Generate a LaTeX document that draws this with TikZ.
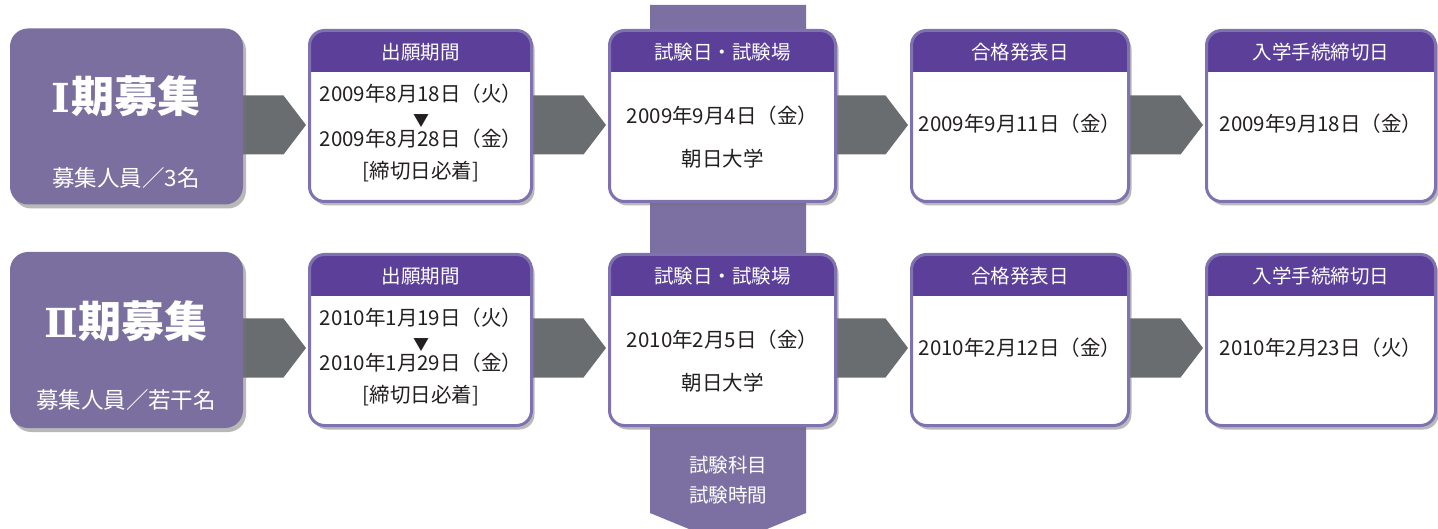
\documentclass[tikz,border=0pt]{standalone}
\usepackage{fontspec}
\setmainfont{Noto Sans CJK JP}
\newfontfamily\romfont{DejaVu Serif}
\usetikzlibrary{calc,shadows}
\pgfdeclarelayer{bg}
\pgfsetlayers{bg,main}
\definecolor{hdr}{HTML}{5B3F98}
\definecolor{cardline}{HTML}{8072B0}
\definecolor{lboxc}{HTML}{7A6F9E}
\definecolor{bandc}{HTML}{7B70A1}
\definecolor{arrowc}{HTML}{6A6D6F}
\definecolor{ink}{HTML}{231F20}

\newcommand\mkcard[4]{%
  \node[card, minimum width=#4pt] (#1) at (#2,#3) {};
  \begin{scope}
    \clip[rounded corners=15pt] (#1.south west) rectangle (#1.north east);
    \fill[hdr] (#1.north west) rectangle ($(#1.north east)+(0,42)$);
  \end{scope}
  \draw[cardline, line width=3pt, rounded corners=15pt] (#1.south west) rectangle (#1.north east);
}
\newcommand\flowarr[3]{%
  \path (#1.east |- #3) coordinate (fa-s) (#2.west |- #3) coordinate (fa-t);
  \begin{pgfonlayer}{bg}
    \fill[arrowc] ($(fa-s)+(-6,-29.5)$) -- ($(fa-t)+(-26,-29.5)$) -- ($(fa-t)+(-3.5,0)$)
      -- ($(fa-t)+(-26,29.5)$) -- ($(fa-s)+(-6,29.5)$) -- cycle;
  \end{pgfonlayer}}
\newcommand\romnum[1]{{\romfont\bfseries\fontsize{40}{44}\selectfont #1}\kern1pt}

\begin{document}
\begin{tikzpicture}[x=1pt,y=-1pt,
  card/.style={fill=white, rounded corners=15pt, inner sep=0pt, outer sep=0pt,
    minimum height=171pt,
    drop shadow={shadow xshift=3pt, shadow yshift=-4pt, fill=black!55, opacity=.5}},
  lbox/.style={fill=lboxc, rounded corners=18pt, inner sep=0pt, outer sep=0pt,
    minimum width=233pt, minimum height=176pt,
    drop shadow={shadow xshift=3pt, shadow yshift=-4pt, fill=black!55, opacity=.5}},
  big/.style={font=\fontsize{43}{48}\selectfont\bfseries, text=white, inner sep=0pt},
  sub/.style={font=\fontsize{22.5}{26}\selectfont, text=white, inner sep=0pt},
  hd/.style={font=\fontsize{19.5}{24}\selectfont, text=white, inner sep=0pt},
  txt/.style={font=\fontsize{20.5}{24}\selectfont, text=ink, inner sep=0pt},
  tri/.style={font=\fontsize{16}{18}\selectfont, text=ink, inner sep=0pt},
  bandtxt/.style={font=\fontsize{19.5}{24}\selectfont, text=white, inner sep=0pt},
]
\useasboundingbox (0,0) rectangle (1438,529);
\clip (0,0) rectangle (1438,529);

% vertical band behind the exam cards
\begin{pgfonlayer}{bg}
  \fill[bandc] (650,5) -- (806,5) -- (806,513) -- (728,545) -- (650,513) -- cycle;
\end{pgfonlayer}
\node[bandtxt] (bt1) at (728,465) {試験科目};
\node[bandtxt] (bt2) at (728,495) {試験時間};

\coordinate (y1) at (0,125);
\coordinate (y2) at (0,348);

% ---------- Row 1 ----------
\node[lbox] (r1L) at (126.5,116.5) {};
\node[big] (r1Lt) at (126,96) {\romnum{Ⅰ}期募集};
\node[sub] (r1Ls) at (126,178) {募集人員／3名};

\mkcard{r1c2}{420.5}{116}{222}
\node[hd] (r1c2h) at (420.5,52) {出願期間};
\node[txt] (r1c2a) at (421,94) {2009年8月18日（火）};
\node[tri] (r1c2m) at (421,121) {▼};
\node[txt] (r1c2b) at (421,139) {2009年8月28日（金）};
\node[txt] (r1c2c) at (421,172) {[締切日必着]};

\mkcard{r1c3}{722.5}{116}{226}
\node[hd] (r1c3h) at (722.5,52) {試験日・試験場};
\node[txt] (r1c3a) at (722.5,116) {2009年9月4日（金）};
\node[txt] (r1c3b) at (722.5,159) {朝日大学};

\mkcard{r1c4}{1020}{116}{217}
\node[hd] (r1c4h) at (1020,52) {合格発表日};
\node[txt] (r1c4a) at (1020,124) {2009年9月11日（金）};

\mkcard{r1c5}{1321}{116}{229}
\node[hd] (r1c5h) at (1321,52) {入学手続締切日};
\node[txt] (r1c5a) at (1321,124) {2009年9月18日（金）};

\flowarr{r1L}{r1c2}{y1}
\flowarr{r1c2}{r1c3}{y1}
\flowarr{r1c3}{r1c4}{y1}
\flowarr{r1c4}{r1c5}{y1}

% ---------- Row 2 ----------
\node[lbox] (r2L) at (126.5,340) {};
\node[big] (r2Lt) at (126,321) {\romnum{Ⅱ}期募集};
\node[sub] (r2Ls) at (126,400) {募集人員／若干名};

\mkcard{r2c2}{420.5}{340}{222}
\node[hd] (r2c2h) at (420.5,276) {出願期間};
\node[txt] (r2c2a) at (421,318) {2010年1月19日（火）};
\node[tri] (r2c2m) at (421,345) {▼};
\node[txt] (r2c2b) at (421,363) {2010年1月29日（金）};
\node[txt] (r2c2c) at (421,396) {[締切日必着]};

\mkcard{r2c3}{722.5}{340}{226}
\node[hd] (r2c3h) at (722.5,276) {試験日・試験場};
\node[txt] (r2c3a) at (722.5,340) {2010年2月5日（金）};
\node[txt] (r2c3b) at (722.5,383) {朝日大学};

\mkcard{r2c4}{1020}{340}{217}
\node[hd] (r2c4h) at (1020,276) {合格発表日};
\node[txt] (r2c4a) at (1020,348) {2010年2月12日（金）};

\mkcard{r2c5}{1321}{340}{229}
\node[hd] (r2c5h) at (1321,276) {入学手続締切日};
\node[txt] (r2c5a) at (1321,348) {2010年2月23日（火）};

\flowarr{r2L}{r2c2}{y2}
\flowarr{r2c2}{r2c3}{y2}
\flowarr{r2c3}{r2c4}{y2}
\flowarr{r2c4}{r2c5}{y2}
\end{tikzpicture}
\end{document}
